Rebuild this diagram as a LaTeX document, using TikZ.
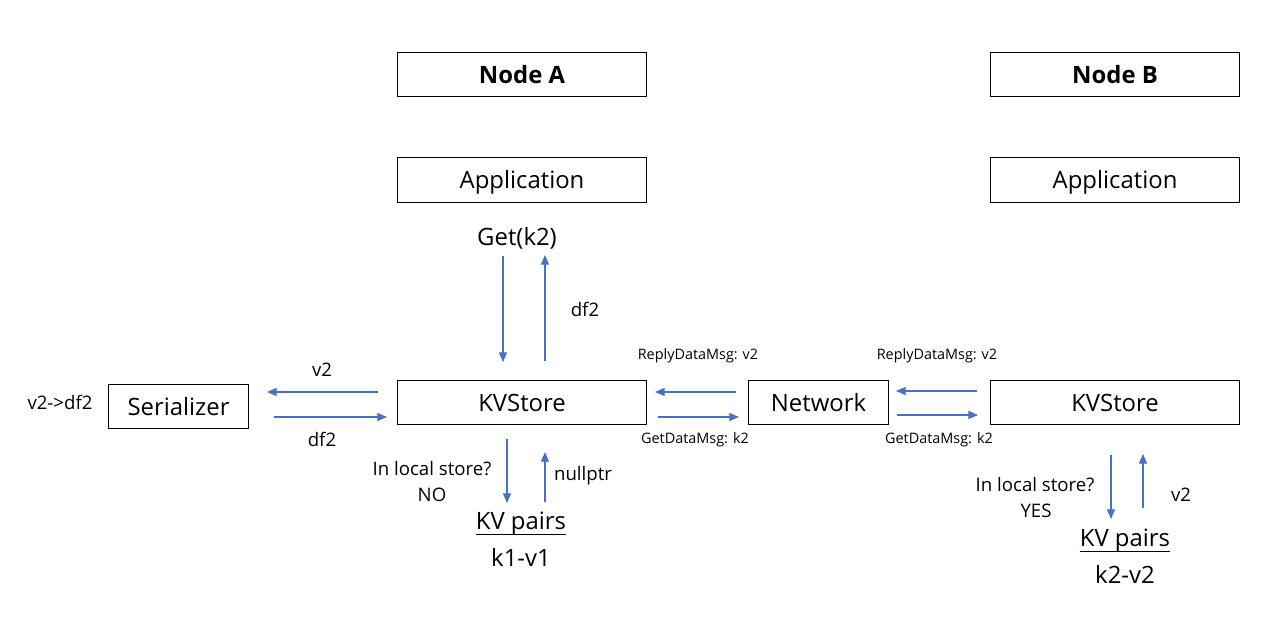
\documentclass[tikz,border=0pt]{standalone}
\usepackage{fontspec}
\setmainfont{Open Sans}
\usetikzlibrary{arrows.meta}
\definecolor{arr}{HTML}{4472C4}
\newcommand{\bigf}{\fontsize{13.6pt}{16pt}\selectfont}
\newcommand{\medf}{\fontsize{10.6pt}{12pt}\selectfont}
\newcommand{\smallf}{\fontsize{8.2pt}{10pt}\selectfont}
\tikzset{
  box/.style={draw=black, line width=0.6pt, inner sep=0pt, anchor=north west, font=\bigf,
              text height=12pt, text depth=2.2pt},
  lbl/.style={inner sep=0pt, font=\medf},
  slbl/.style={inner sep=0pt, font=\smallf},
  big/.style={inner sep=0pt, font=\bigf},
  flow/.style={draw=arr, line width=0.6pt, -{Triangle[length=5.5pt, width=4.6pt]}},
  uline/.style={draw=black, line width=0.7pt}
}
\begin{document}
\begin{tikzpicture}[x=0.02cm, y=-0.02cm]
\useasboundingbox (0,0) rectangle (1279,620);
% boxes
\node[box, minimum width=249*0.02cm, minimum height=44*0.02cm] (nodeA) at (397,52) {\textbf{Node A}};
\node[box, minimum width=249*0.02cm, minimum height=44*0.02cm] (nodeB) at (990,52) {\textbf{Node B}};
\node[box, minimum width=249*0.02cm, minimum height=45*0.02cm] (appA) at (397,157) {Application};
\node[box, minimum width=249*0.02cm, minimum height=45*0.02cm] (appB) at (990,157) {Application};
\node[box, minimum width=249*0.02cm, minimum height=44*0.02cm] (kvA) at (397,380) {KVStore};
\node[box, minimum width=249*0.02cm, minimum height=44*0.02cm] (kvB) at (990,380) {KVStore};
\node[box, minimum width=140*0.02cm, minimum height=44*0.02cm] (ser) at (108,384) {Serializer};
\node[box, minimum width=140*0.02cm, minimum height=44*0.02cm] (net) at (748,380) {Network};
% free texts
\node[big] (get) at (517,238) {Get(k2)};
\node[lbl] (df2a) at (585,309) {df2};
\node[lbl] (v2d) at (60,402) {v2->df2};
\node[lbl] (v2s) at (322,370) {v2};
\node[lbl] (df2s) at (322,439) {df2};
\node[slbl] (rep1) at (698,356) {ReplyDataMsg: v2};
\node[slbl] (gdm1) at (695,440) {GetDataMsg: k2};
\node[slbl] (rep2) at (937,356) {ReplyDataMsg: v2};
\node[slbl] (gdm2) at (939,440) {GetDataMsg: k2};
\node[lbl] (ilsA) at (432,469) {In local store?};
\node[lbl] (noA) at (432,495) {NO};
\node[lbl] (nullp) at (583,476) {nullptr};
\node[big] (kvpA) at (521,524) {KV pairs};
\node[big] (k1v1) at (521,557) {k1-v1};
\node[lbl] (ilsB) at (1035,485) {In local store?};
\node[lbl] (yesB) at (1036,511) {YES};
\node[lbl] (v2B) at (1181,495) {v2};
\node[big] (kvpB) at (1125,541) {KV pairs};
\node[big] (k2v2) at (1125,574) {k2-v2};
% underlines
\draw[uline] ([yshift=-2.8pt]kvpA.base west) -- ([yshift=-2.8pt]kvpA.base east);
\draw[uline] ([yshift=-2.8pt]kvpB.base west) -- ([yshift=-2.8pt]kvpB.base east);
% arrow endpoints
\coordinate (a1s) at (503,256); \coordinate (a1e) at (503,362);
\coordinate (a2s) at (545,361); \coordinate (a2e) at (545,255);
\coordinate (s1s) at (378,392); \coordinate (s1e) at (267,392);
\coordinate (s2s) at (274,417); \coordinate (s2e) at (387,417);
\coordinate (n1s) at (736,392); \coordinate (n1e) at (655,392);
\coordinate (n2s) at (658,417); \coordinate (n2e) at (739,417);
\coordinate (n3s) at (977,391); \coordinate (n3e) at (896,391);
\coordinate (n4s) at (897,415); \coordinate (n4e) at (978,415);
\coordinate (d1s) at (507,439); \coordinate (d1e) at (507,503);
\coordinate (d2s) at (545,502); \coordinate (d2e) at (545,452);
\coordinate (d3s) at (1111,455); \coordinate (d3e) at (1111,519);
\coordinate (d4s) at (1143,508); \coordinate (d4e) at (1143,454);
% arrows
\foreach \p in {a1,a2,s1,s2,n1,n2,n3,n4,d1,d2,d3,d4}
  \draw[flow] (\p s) -- (\p e);
\end{tikzpicture}
\end{document}
